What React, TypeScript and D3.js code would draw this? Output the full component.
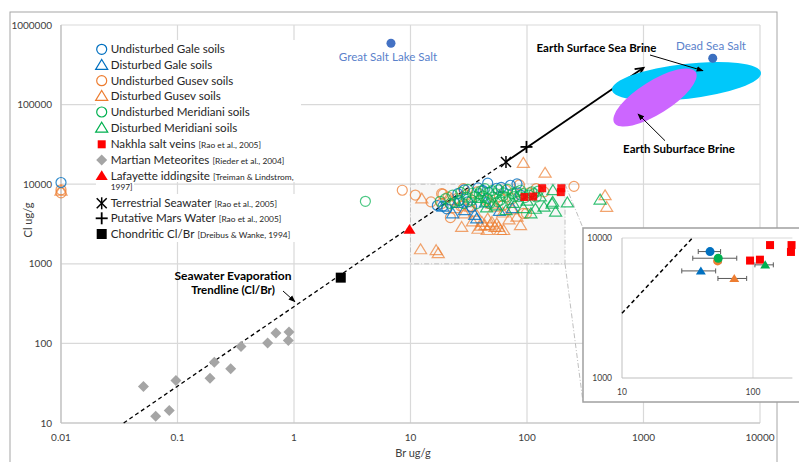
import React from 'react';
import * as d3 from 'd3';

// ---------- DATA (Br ug/g, Cl ug/g) ----------
const xTickValues = [0.01, 0.1, 1, 10, 100, 1000, 10000];
const yTickValues = [10, 100, 1000, 10000, 100000, 1000000];
const xTickLabels = ['0.01', '0.1', '1', '10', '100', '1000', '10000'];
const yTickLabels = ['10', '100', '1000', '10000', '100000', '1000000'];

const undisturbedGale: [number, number][] = [
  [0.01, 10500], [46, 10300], [82, 10100], [72, 9700], [20.5, 4900], [25.5, 7600],
  [33.5, 5200], [38, 9000], [29, 8500], [55, 8900], [17, 5400], [19, 5300],
  [26, 6200], [31, 6000], [60, 9100], [88, 7300], [42, 8300],
];
const disturbedGale: [number, number][] = [
  [19, 5200], [35.6, 4100], [75, 5000], [29, 4700], [23, 4300], [44, 5900],
  [37, 3700], [58, 4600], [25, 5800],
];
const undisturbedGusev: [number, number][] = [
  [0.01, 8500], [0.01, 7800], [8.5, 8400], [11, 7300], [19, 7500], [22, 3800],
  [18.5, 5700], [253, 9400], [86, 9800], [93, 4300], [62, 5400], [30, 7300],
  [37, 8000], [25, 6600], [66, 8400], [120, 8800], [99, 4300], [15, 6000],
  [27, 5300], [45, 6300], [18.5, 7600], [28.5, 8800], [21, 6900], [33, 6000],
  [58, 7000], [75, 6600], [105, 7800], [140, 8000],
];
const disturbedGusev: [number, number][] = [
  [0.01, 8300], [12.5, 6600], [12.2, 1520], [16.6, 1480], [17.3, 1360], [93, 18500],
  [143, 13900], [468, 7250], [483, 5180], [27.5, 2900], [41, 3350], [46, 3700],
  [48, 3050], [53, 2900], [59, 2650], [63, 2650], [45.5, 2650], [43.5, 3050],
  [50, 3350], [57, 2900], [35.6, 4500], [29, 4300], [32.7, 5200], [82, 3900],
  [88, 3050], [50, 5700], [53, 5200], [22, 6300], [40, 3000], [55, 3200],
  [34, 3400], [38, 2750], [70, 3600], [62, 4400], [75, 4800], [24, 5000],
];
const undisturbedMeridiani: [number, number][] = [
  [4.1, 6100], [22, 5700], [26.5, 6300], [30, 6900], [39, 7600], [43.5, 8800],
  [51, 6900], [59, 6300], [75, 7600], [93, 7600], [104, 7300], [120, 6900],
  [37, 5700], [48, 5700], [66, 6900], [33.5, 6300], [28.5, 5700], [45.5, 6600],
  [82, 8000], [54, 7600], [40, 8200], [62, 7100], [110, 8000], [70, 6400],
  [36, 7000], [24, 5900], [50, 8300], [85, 7000], [20, 6600], [23, 7300],
  [27, 7900], [31, 8600], [34, 7700], [42, 7100], [47, 7900], [57, 8500],
  [63, 7800], [68, 8600], [78, 7000], [88, 8400], [96, 6800], [115, 7600],
  [125, 8200], [44, 6000], [56, 6000], [18, 6100],
];
const disturbedMeridiani: [number, number][] = [
  [54, 5400], [93, 5000], [108, 4300], [66, 4700], [167, 8400], [164, 5700],
  [176, 4500], [222, 5900], [39, 6700], [424, 6400], [166, 6000], [130, 7000],
  [45, 5100], [76, 5800], [100, 6200], [140, 5200], [118, 4900],
];
const nakhla: [number, number][] = [
  [95, 6900], [113, 7000], [135, 8900], [197, 8900], [195, 7950],
];
const meteorites: [number, number][] = [
  [0.051, 28.8], [0.065, 12.2], [0.085, 14.4], [0.097, 34.3], [0.19, 36.6],
  [0.207, 58], [0.286, 48], [0.351, 91.6], [0.594, 101], [0.7, 135],
  [0.894, 109], [0.906, 139],
];
const lafayette: [number, number][] = [[9.8, 2700]];
const seawater: [number, number][] = [[66, 19000]];
const marsWater: [number, number][] = [[99, 29400]];
const chondritic: [number, number][] = [[2.52, 670]];
const greatSaltLake: [number, number] = [6.8, 590000];
const deadSea: [number, number] = [3930, 382000];

const clBrRatio = 290;
const trendStartBr = 0.0345;
const trendEndBr = 1000;

// inset: group means with ranges
const meanKinds = ['ugale', 'dgale', 'ugusev', 'dgusev', 'umer', 'dmer'];
const meanBr = [47, 40, 53.7, 72, 54.3, 124];
const meanCl = [8000, 5820, 6860, 5140, 7170, 6430];
const meanBrLo = [38.2, 28.6, 51, 54, 34.7, 103.5];
const meanBrHi = [56.6, 51.9, 57, 89.5, 75.2, 143];
const meanClLo = [7700, 5700, 6700, 5050, 7000, 6300];
const meanClHi = [8400, 5950, 7000, 5230, 7350, 6560];
const insetX = [10, 100];
const insetY = [1000, 10000];

// ---------- STYLE ----------
const BLUE = '#0070C0';
const ORANGE = '#ED7D31';
const GREEN = '#00B050';
const RED = '#FF0000';
const GRAY = '#A5A5A5';
const FONT = "Lato, 'Open Sans', sans-serif";

const tri = (s: number) => `M0,${-s} L${s * 1.1},${s * 0.8} L${-s * 1.1},${s * 0.8} Z`;
const diamond = (s: number) => `M0,${-s} L${s},0 L0,${s} L${-s},0 Z`;

function Marker({ kind, x, y, op = 1 }: { kind: string; x: number; y: number; op?: number }) {
  const t = `translate(${x},${y})`;
  switch (kind) {
    case 'ugale': return <circle cx={x} cy={y} r={5} fill="none" stroke={BLUE} strokeWidth={1.2} strokeOpacity={op} />;
    case 'ugusev': return <circle cx={x} cy={y} r={5} fill="none" stroke={ORANGE} strokeWidth={1.2} strokeOpacity={op} />;
    case 'umer': return <circle cx={x} cy={y} r={5} fill="none" stroke={GREEN} strokeWidth={1.2} strokeOpacity={op} />;
    case 'dgale': return <path d={tri(5.5)} transform={t} fill="none" stroke={BLUE} strokeWidth={1.2} strokeOpacity={op} />;
    case 'dgusev': return <path d={tri(5.5)} transform={t} fill="none" stroke={ORANGE} strokeWidth={1.2} strokeOpacity={op} />;
    case 'dmer': return <path d={tri(5.5)} transform={t} fill="none" stroke={GREEN} strokeWidth={1.2} strokeOpacity={op} />;
    case 'nakhla': return <rect x={x - 4} y={y - 4} width={8} height={8} fill={RED} fillOpacity={op} />;
    case 'met': return <path d={diamond(5.5)} transform={t} fill={GRAY} />;
    case 'laf': return <path d={tri(5.5)} transform={t} fill={RED} />;
    case 'sea': return (
      <g transform={t} stroke="#000" strokeWidth={1.5}>
        <line x1={-5} y1={-5} x2={5} y2={5} />
        <line x1={-5} y1={5} x2={5} y2={-5} />
        <line x1={0} y1={-6} x2={0} y2={6} />
      </g>
    );
    case 'mars': return (
      <g transform={t} stroke="#000" strokeWidth={1.8}>
        <line x1={-6} y1={0} x2={6} y2={0} />
        <line x1={0} y1={-6} x2={0} y2={6} />
      </g>
    );
    case 'chon': return <rect x={x - 5} y={y - 5} width={10} height={10} fill="#000" />;
    default: return null;
  }
}

function InsetMarker({ kind, x, y }: { kind: string; x: number; y: number }) {
  const col = kind.endsWith('gale') ? BLUE : kind.endsWith('gusev') ? ORANGE : GREEN;
  if (kind.startsWith('u')) return <circle cx={x} cy={y} r={4.5} fill={col} />;
  return <path d={tri(4.5)} transform={`translate(${x},${y})`} fill={col} />;
}

const legendItems = [
  { kind: 'ugale', text: 'Undisturbed Gale soils', cite: '' },
  { kind: 'dgale', text: 'Disturbed Gale soils', cite: '' },
  { kind: 'ugusev', text: 'Undisturbed Gusev soils', cite: '' },
  { kind: 'dgusev', text: 'Disturbed Gusev soils', cite: '' },
  { kind: 'umer', text: 'Undisturbed Meridiani soils', cite: '' },
  { kind: 'dmer', text: 'Disturbed Meridiani soils', cite: '' },
  { kind: 'nakhla', text: 'Nakhla salt veins', cite: '[Rao et al., 2005]' },
  { kind: 'met', text: 'Martian Meteorites', cite: '[Rieder et al., 2004]' },
  { kind: 'laf', text: 'Lafayette iddingsite', cite: '[Treiman & Lindstrom,' },
  { kind: 'sea', text: 'Terrestrial Seawater', cite: '[Rao et al., 2005]' },
  { kind: 'mars', text: 'Putative Mars Water', cite: '[Rao et al., 2005]' },
  { kind: 'chon', text: 'Chondritic Cl/Br', cite: '[Dreibus & Wanke, 1994]' },
];
const legendY = [49.3, 65, 80.7, 96, 112, 127.7, 144.3, 160, 175.7, 203.3, 218.3, 234];

export default function App() {
  const W = 799, H = 462;
  const x = d3.scaleLog().domain([0.01, 10000]).range([61, 760]);
  const y = d3.scaleLog().domain([10, 1000000]).range([423, 25]);
  const xi = d3.scaleLog().domain([10, 200]).range([622, 792.4]);
  const yi = d3.scaleLog().domain([1000, 10000]).range([378, 238]);

  const series: { kind: string; data: [number, number][]; op: number }[] = [
    { kind: 'dgusev', data: disturbedGusev, op: 0.7 },
    { kind: 'ugusev', data: undisturbedGusev, op: 0.75 },
    { kind: 'dgale', data: disturbedGale, op: 0.8 },
    { kind: 'ugale', data: undisturbedGale, op: 0.8 },
    { kind: 'dmer', data: disturbedMeridiani, op: 0.8 },
    { kind: 'umer', data: undisturbedMeridiani, op: 0.7 },
    { kind: 'nakhla', data: nakhla, op: 0.9 },
    { kind: 'met', data: meteorites, op: 1 },
    { kind: 'laf', data: lafayette, op: 1 },
    { kind: 'chon', data: chondritic, op: 1 },
  ];

  const seaPt = seawater[0];
  const trendDashed = d3.line()([
    [x(trendStartBr), y(trendStartBr * clBrRatio)],
    [x(seaPt[0]), y(seaPt[0] * clBrRatio)],
  ]);
  const tx2 = x(trendEndBr), ty2 = y(trendEndBr * clBrRatio);
  const tx1 = x(seaPt[0]), ty1 = y(seaPt[0] * clBrRatio);
  const ang = Math.atan2(ty2 - ty1, tx2 - tx1);
  const ah = 9;
  const a1 = [tx2 - ah * Math.cos(ang - 0.45), ty2 - ah * Math.sin(ang - 0.45)];
  const a2 = [tx2 - ah * Math.cos(ang + 0.45), ty2 - ah * Math.sin(ang + 0.45)];

  const iBr0 = 10, iBr1 = 10000 / clBrRatio;

  const rx0 = x(10), rx1 = x(212), ry0 = y(10000), ry1 = y(1000);
  const insetL = 583, insetT = 228, insetB = 402;

  return (
    <svg width={W} height={H} style={{ position: 'absolute', left: 0, top: 0, fontFamily: FONT }}>
      <defs>
        <marker id="ah" viewBox="0 0 10 10" refX="9" refY="5" markerWidth="7" markerHeight="7" orient="auto">
          <path d="M0,1 L10,5 L0,9 z" fill="#000" />
        </marker>
      </defs>
      <rect x={0} y={0} width={W} height={H} fill="#fff" />
      <rect x={10} y={12} width={767} height={470} fill="#fff" stroke="#A6A6A6" strokeWidth={1} />

      {/* gridlines */}
      {xTickValues.map((v) => (
        <line key={'gx' + v} x1={x(v)} x2={x(v)} y1={25} y2={423} stroke="#D9D9D9" strokeWidth={1.2} />
      ))}
      {yTickValues.map((v) => (
        <line key={'gy' + v} x1={61} x2={760} y1={y(v)} y2={y(v)} stroke="#D9D9D9" strokeWidth={1.2} />
      ))}
      <line x1={61} x2={61} y1={25} y2={423} stroke="#BFBFBF" strokeWidth={1.2} />
      <line x1={61} x2={760} y1={423} y2={423} stroke="#BFBFBF" strokeWidth={1.2} />

      {/* tick labels */}
      {yTickValues.map((v, i) => (
        <text key={'ty' + v} x={52} y={y(v)} dy="0.35em" textAnchor="end" fontSize={10} fill="#404040">{yTickLabels[i]}</text>
      ))}
      {xTickValues.map((v, i) => (
        <text key={'tx' + v} x={x(v)} y={437} dy="0.35em" textAnchor="middle" fontSize={10} fill="#404040">{xTickLabels[i]}</text>
      ))}
      <text x={413} y={453} dy="0.35em" textAnchor="middle" fontSize={11} fill="#404040">Br ug/g</text>
      <text transform={`translate(28,220) rotate(-90)`} dy="0.35em" textAnchor="middle" fontSize={11} fill="#404040">Cl ug/g</text>

      {/* zoom region */}
      <rect x={rx0} y={ry0} width={rx1 - rx0} height={ry1 - ry0} fill="#F7F7F7" stroke="#BFBFBF" strokeWidth={1} strokeDasharray="5 2 1 2" />
      <line x1={rx1} y1={ry0} x2={insetL} y2={insetT} stroke="#BFBFBF" strokeWidth={1} strokeDasharray="5 2 1 2" />
      <line x1={rx1} y1={ry1} x2={insetL} y2={insetB} stroke="#BFBFBF" strokeWidth={1} strokeDasharray="5 2 1 2" />

      {/* trend line */}
      <path d={trendDashed || ''} fill="none" stroke="#000" strokeWidth={1.3} strokeDasharray="4 3" />
      <line x1={tx1} y1={ty1} x2={tx2} y2={ty2} stroke="#000" strokeWidth={1.8} />
      <polyline points={`${a1[0]},${a1[1]} ${tx2},${ty2} ${a2[0]},${a2[1]}`} fill="none" stroke="#000" strokeWidth={1.8} />

      {/* scatter */}
      {series.map((s) => s.data.map((d, i) => (
        <Marker key={s.kind + i} kind={s.kind} x={x(d[0])} y={y(d[1])} op={s.op} />
      )))}
      <Marker kind="sea" x={x(seaPt[0])} y={y(seaPt[1])} />
      <Marker kind="mars" x={x(marsWater[0][0])} y={y(marsWater[0][1])} />

      {/* ellipses */}
      <ellipse cx={686.5} cy={81.3} rx={75} ry={17.5} transform="rotate(-6.6 686.5 81.3)" fill="#00C8FA" />
      <ellipse cx={655} cy={97.5} rx={48} ry={16.5} transform="rotate(-32 655 97.5)" fill="#CC66FF" />

      {/* salt points */}
      <circle cx={x(greatSaltLake[0])} cy={y(greatSaltLake[1])} r={4.5} fill="#4472C4" />
      <text x={388} y={57} dy="0.35em" textAnchor="middle" fontSize={11.6} fill="#5B82CB">Great Salt Lake Salt</text>
      <circle cx={x(deadSea[0])} cy={y(deadSea[1])} r={4.5} fill="#3B6FC0" />
      <text x={711} y={46} dy="0.35em" textAnchor="middle" fontSize={11.6} fill="#5B82CB">Dead Sea Salt</text>

      {/* annotations */}
      <text x={596.5} y={48} dy="0.35em" textAnchor="middle" fontSize={11.5} fontWeight="bold" fill="#000">Earth Surface Sea Brine</text>
      <line x1={650} y1={55} x2={703} y2={70.7} stroke="#000" strokeWidth={1} markerEnd="url(#ah)" />
      <text x={679} y={148.5} dy="0.35em" textAnchor="middle" fontSize={11.5} fontWeight="bold" fill="#000">Earth Suburface Brine</text>
      <line x1={665} y1={140.7} x2={638} y2={114} stroke="#000" strokeWidth={1} markerEnd="url(#ah)" />
      <text x={233} y={276} dy="0.35em" textAnchor="middle" fontSize={12} fontWeight="bold" fill="#000">Seawater Evaporation</text>
      <text x={233} y={290} dy="0.35em" textAnchor="middle" fontSize={11.5} fontWeight="bold" fill="#000">Trendline (Cl/Br)</text>
      <line x1={283} y1={291} x2={295} y2={301.7} stroke="#000" strokeWidth={1} markerEnd="url(#ah)" />

      {/* legend */}
      <rect x={96} y={40} width={205} height={142} fill="#fff" />
      <rect x={96} y={194} width={205} height={48} fill="#fff" />
      <rect x={96} y={182} width={38} height={12} fill="#fff" />
      {legendItems.map((it, i) => (
        <g key={it.kind}>
          <Marker kind={it.kind} x={101.7} y={legendY[i]} />
          <text x={110.7} y={legendY[i]} dy="0.35em" fontSize={11.6} fill="#262626">
            {it.text}
            {it.cite ? <tspan fontSize={8.4} dx={3}>{it.cite}</tspan> : null}
          </text>
        </g>
      ))}
      <text x={110.7} y={186.7} dy="0.35em" fontSize={8.4} fill="#262626">1997]</text>

      {/* inset */}
      <rect x={insetL} y={insetT} width={240} height={insetB - insetT} fill="#fff" stroke="#A0A0A0" strokeWidth={1.5} />
      <line x1={xi(100)} x2={xi(100)} y1={yi(10000)} y2={yi(1000)} stroke="#D9D9D9" strokeWidth={1} />
      <line x1={xi(10)} x2={xi(200)} y1={yi(10000)} y2={yi(10000)} stroke="#D9D9D9" strokeWidth={1} />
      <line x1={xi(10)} x2={xi(10)} y1={yi(10000)} y2={yi(1000)} stroke="#BFBFBF" strokeWidth={1} />
      <line x1={xi(10)} x2={xi(200)} y1={yi(1000)} y2={yi(1000)} stroke="#BFBFBF" strokeWidth={1} />
      {insetY.map((v) => (
        <text key={'iy' + v} x={612} y={yi(v)} dy="0.35em" textAnchor="end" fontSize={8.5} fill="#404040">{v}</text>
      ))}
      {insetX.map((v) => (
        <text key={'ix' + v} x={xi(v)} y={392} dy="0.35em" textAnchor="middle" fontSize={8.5} fill="#404040">{v}</text>
      ))}
      <line x1={xi(iBr0)} y1={yi(iBr0 * clBrRatio)} x2={xi(iBr1)} y2={yi(iBr1 * clBrRatio)} stroke="#000" strokeWidth={1.5} strokeDasharray="4 3" />
      {nakhla.map((d, i) => (
        <rect key={'in' + i} x={xi(d[0]) - 4} y={yi(d[1]) - 4} width={8} height={8} fill={RED} />
      ))}
      {meanKinds.map((k, i) => (
        <g key={'m' + k}>
          <g stroke="#595959" strokeWidth={1}>
            <line x1={xi(meanBrLo[i])} x2={xi(meanBrHi[i])} y1={yi(meanCl[i])} y2={yi(meanCl[i])} />
            <line x1={xi(meanBrLo[i])} x2={xi(meanBrLo[i])} y1={yi(meanCl[i]) - 2.5} y2={yi(meanCl[i]) + 2.5} />
            <line x1={xi(meanBrHi[i])} x2={xi(meanBrHi[i])} y1={yi(meanCl[i]) - 2.5} y2={yi(meanCl[i]) + 2.5} />
            <line x1={xi(meanBr[i])} x2={xi(meanBr[i])} y1={yi(meanClLo[i])} y2={yi(meanClHi[i])} />
          </g>
          <InsetMarker kind={k} x={xi(meanBr[i])} y={yi(meanCl[i])} />
        </g>
      ))}
    </svg>
  );
}
